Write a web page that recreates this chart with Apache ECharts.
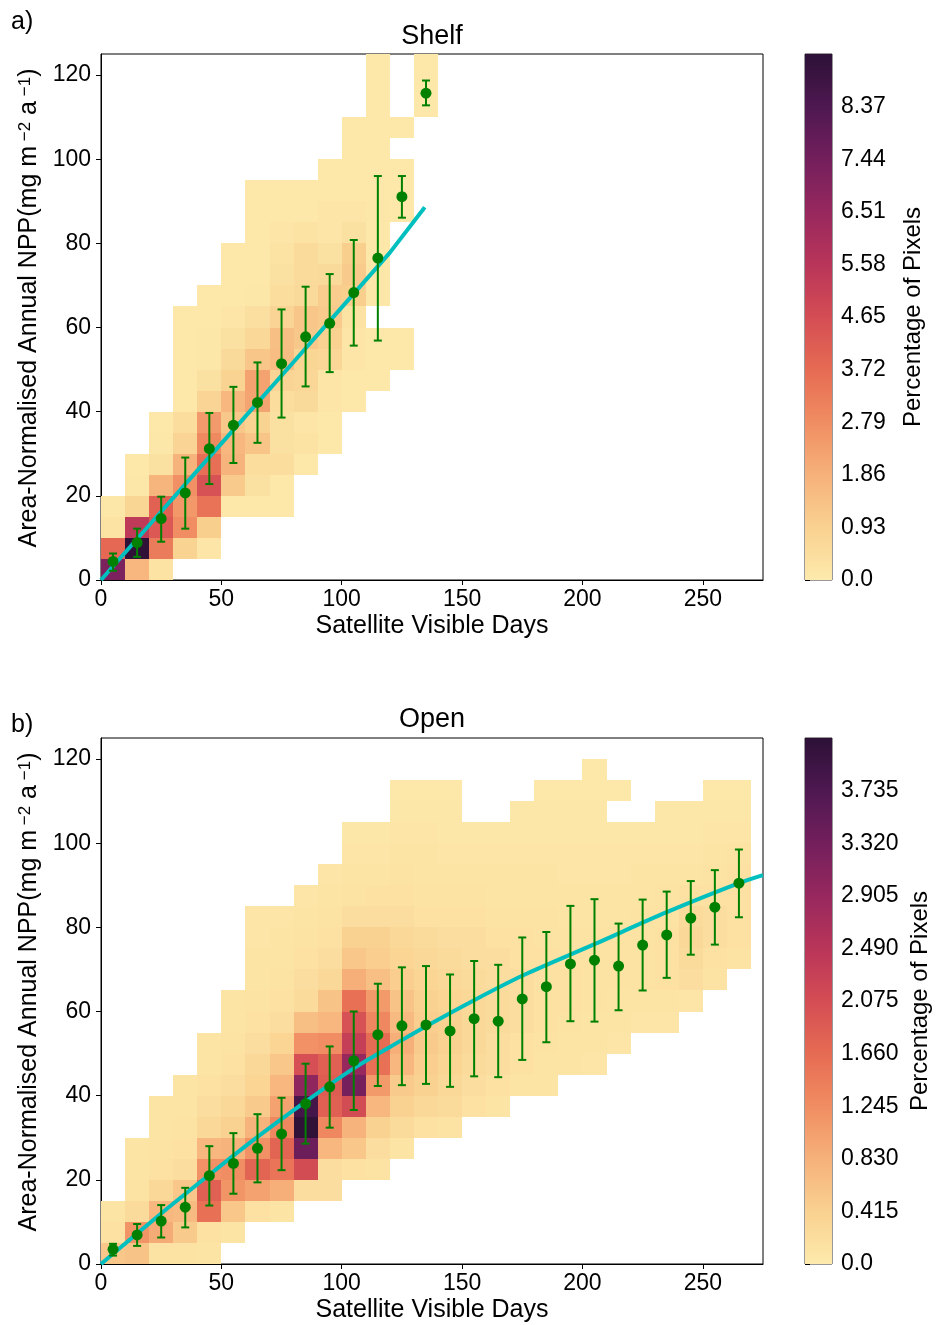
<!DOCTYPE html>
<html>
<head>
<meta charset="utf-8">
<script src="https://cdn.jsdelivr.net/npm/echarts@6/dist/echarts.min.js"></script>
<style>
html,body{margin:0;padding:0;background:#fff;}
#chart{width:938px;height:1325px;}
</style>
</head>
<body>
<div id="chart"></div>
<script>
// ---------------- DATA ----------------
const dayTicks = [0, 50, 100, 150, 200, 250];
const nppTicks = [0, 20, 40, 60, 80, 100, 120];
const dayBin = 10;   // histogram bin width (days)
const nppBin = 5;    // histogram bin height (NPP units)

const shelfCbarTicks = [0, 0.93, 1.86, 2.79, 3.72, 4.65, 5.58, 6.51, 7.44, 8.37];
const shelfCbarMax = 9.3;
const openCbarTicks = [0, 0.415, 0.83, 1.245, 1.66, 2.075, 2.49, 2.905, 3.32, 3.735];
const openCbarMax = 4.15;

// Percentage of pixels per (10-day x 5-NPP) bin, rows from NPP 0-5 upward, columns from day 0-10
const shelfHist = [
  [7.2, 1.7, 0.3, 0, 0, 0, 0, 0, 0, 0, 0, 0, 0, 0],
  [3.8, 9.2, 3.25, 0.85, 0.2, 0, 0, 0, 0, 0, 0, 0, 0, 0],
  [0.3, 5.4, 4.3, 2.8, 1.0, 0, 0, 0, 0, 0, 0, 0, 0, 0],
  [0.12, 0.75, 4.0, 2.5, 3.5, 0.08, 0.08, 0.08, 0, 0, 0, 0, 0, 0],
  [0, 0.12, 1.75, 2.7, 4.5, 1.1, 0.35, 0.08, 0, 0, 0, 0, 0, 0],
  [0, 0.08, 0.35, 1.8, 3.6, 1.8, 0.5, 0.45, 0.08, 0, 0, 0, 0, 0],
  [0, 0, 0.12, 0.8, 2.9, 1.7, 1.3, 0.35, 0.3, 0.08, 0, 0, 0, 0],
  [0, 0, 0.08, 0.45, 2.45, 1.2, 0.85, 0.35, 0.2, 0.08, 0, 0, 0, 0],
  [0, 0, 0, 0.08, 0.8, 1.7, 2.2, 0.5, 0.6, 0.2, 0.08, 0, 0, 0],
  [0, 0, 0, 0.08, 0.35, 0.85, 2.25, 0.8, 0.7, 0.2, 0.08, 0.06, 0, 0],
  [0, 0, 0, 0.08, 0.12, 0.6, 1.25, 1.5, 0.75, 0.7, 0.2, 0.08, 0.06, 0],
  [0, 0, 0, 0.08, 0.12, 0.35, 0.65, 1.45, 1.2, 0.9, 0.2, 0.08, 0.06, 0],
  [0, 0, 0, 0.06, 0.08, 0.2, 0.4, 0.8, 1.25, 1.1, 0.3, 0, 0, 0],
  [0, 0, 0, 0, 0.06, 0.08, 0.12, 0.5, 0.6, 1.05, 1.0, 0.12, 0, 0],
  [0, 0, 0, 0, 0, 0.06, 0.08, 0.35, 0.55, 0.6, 1.1, 0.12, 0, 0],
  [0, 0, 0, 0, 0, 0.06, 0.08, 0.3, 0.55, 0.35, 1.0, 0.08, 0, 0],
  [0, 0, 0, 0, 0, 0, 0.08, 0.2, 0.3, 0.2, 0.35, 0.08, 0, 0],
  [0, 0, 0, 0, 0, 0, 0.06, 0.08, 0.08, 0.2, 0.2, 0.12, 0.06, 0],
  [0, 0, 0, 0, 0, 0, 0.06, 0.06, 0.08, 0.08, 0.08, 0.08, 0.06, 0],
  [0, 0, 0, 0, 0, 0, 0, 0, 0, 0.06, 0.08, 0.08, 0.06, 0],
  [0, 0, 0, 0, 0, 0, 0, 0, 0, 0, 0.06, 0.08, 0, 0],
  [0, 0, 0, 0, 0, 0, 0, 0, 0, 0, 0.06, 0.06, 0.06, 0],
  [0, 0, 0, 0, 0, 0, 0, 0, 0, 0, 0, 0.06, 0, 0.06],
  [0, 0, 0, 0, 0, 0, 0, 0, 0, 0, 0, 0.06, 0, 0.06],
  [0, 0, 0, 0, 0, 0, 0, 0, 0, 0, 0, 0.06, 0, 0.06]
];

const openHist = [
  [0.55,0.6,0.12,0.12,0.1, 0,0,0,0,0, 0,0,0,0,0, 0,0,0,0,0, 0,0,0,0,0, 0,0],
  [0.15,1.15,0.9,0.5,0.15, 0.1,0,0,0,0, 0,0,0,0,0, 0,0,0,0,0, 0,0,0,0,0, 0,0],
  [0.1,0.25,0.75,0.7,1.6, 0.55,0.15,0.1,0,0, 0,0,0,0,0, 0,0,0,0,0, 0,0,0,0,0, 0,0],
  [0,0.12,0.3,0.55,1.8, 1.15,1.0,0.85,0.2,0.2, 0,0,0,0,0, 0,0,0,0,0, 0,0,0,0,0, 0,0],
  [0,0.1,0.15,0.2,1.2, 1.25,1.75,1.55,2.1,0.2, 0.15,0.12,0,0,0, 0,0,0,0,0, 0,0,0,0,0, 0,0],
  [0,0.1,0.12,0.15,0.75, 0.8,1.2,1.75,3.4,0.75, 0.55,0.2,0.1,0,0, 0,0,0,0,0, 0,0,0,0,0, 0,0],
  [0,0,0.1,0.12,0.3, 0.4,0.8,1.3,4.1,1.3, 0.8,0.4,0.25,0.15,0.12, 0,0,0,0,0, 0,0,0,0,0, 0,0],
  [0,0,0.1,0.1,0.2, 0.3,0.5,1.0,3.85,1.8, 2.1,0.75,0.4,0.3,0.25, 0.15,0.1,0,0,0, 0,0,0,0,0, 0,0],
  [0,0,0,0.1,0.15, 0.2,0.35,0.75,3.0,1.85, 3.3,1.1,0.5,0.4,0.3, 0.2,0.15,0.1,0.1,0, 0,0,0,0,0, 0,0],
  [0,0,0,0,0.1, 0.15,0.3,0.55,2.05,1.8, 2.9,1.6,0.75,0.45,0.35, 0.25,0.2,0.15,0.1,0.1, 0.08,0,0,0,0, 0,0],
  [0,0,0,0,0.1, 0.12,0.2,0.35,1.2,1.25, 2.3,1.65,0.85,0.5,0.4, 0.3,0.2,0.15,0.12,0.1, 0.1,0.08,0,0,0, 0,0],
  [0,0,0,0,0, 0.1,0.15,0.2,0.65,0.75, 2.0,1.3,0.7,0.45,0.4, 0.3,0.25,0.2,0.15,0.12, 0.1,0.1,0.08,0.08,0, 0,0],
  [0,0,0,0,0, 0.1,0.12,0.15,0.25,0.6, 1.6,1.1,0.6,0.4,0.35, 0.3,0.25,0.2,0.15,0.15, 0.12,0.1,0.1,0.1,0.08, 0,0],
  [0,0,0,0,0, 0,0.1,0.12,0.2,0.3, 0.85,0.65,0.45,0.35,0.3, 0.25,0.2,0.2,0.15,0.15, 0.12,0.12,0.12,0.15,0.2, 0.12,0],
  [0,0,0,0,0, 0,0.1,0.1,0.15,0.2, 0.55,0.45,0.35,0.3,0.25, 0.2,0.2,0.15,0.15,0.12, 0.12,0.12,0.12,0.15,0.25, 0.15,0.12],
  [0,0,0,0,0, 0,0.08,0.1,0.12,0.15, 0.4,0.4,0.3,0.25,0.2, 0.2,0.15,0.15,0.12,0.12, 0.12,0.12,0.12,0.15,0.3, 0.2,0.15],
  [0,0,0,0,0, 0,0.08,0.08,0.1,0.12, 0.2,0.2,0.2,0.15,0.15, 0.15,0.12,0.12,0.12,0.1, 0.1,0.1,0.12,0.12,0.25, 0.2,0.15],
  [0,0,0,0,0, 0,0,0,0.08,0.1, 0.12,0.15,0.15,0.12,0.12, 0.12,0.1,0.1,0.1,0.1, 0.1,0.1,0.1,0.12,0.15, 0.15,0.15],
  [0,0,0,0,0, 0,0,0,0,0.08, 0.1,0.1,0.12,0.1,0.1, 0.1,0.1,0.1,0.1,0.08, 0.08,0.08,0.1,0.1,0.1, 0.12,0.15],
  [0,0,0,0,0, 0,0,0,0,0, 0.08,0.08,0.1,0.1,0.08, 0.08,0.08,0.08,0.08,0.08, 0.08,0.08,0.08,0.08,0.08, 0.1,0.12],
  [0,0,0,0,0, 0,0,0,0,0, 0.06,0.06,0.08,0.08,0.06, 0.06,0.06,0.06,0.06,0.06, 0.06,0.06,0.06,0.06,0.06, 0.08,0.08],
  [0,0,0,0,0, 0,0,0,0,0, 0,0,0.06,0.06,0.06, 0,0,0.06,0.06,0.06, 0.06,0,0,0.06,0.06, 0.06,0.06],
  [0,0,0,0,0, 0,0,0,0,0, 0,0,0.05,0.05,0.05, 0,0,0,0.05,0.05, 0.05,0.05,0,0,0, 0.05,0.05],
  [0,0,0,0,0, 0,0,0,0,0, 0,0,0,0,0, 0,0,0,0,0, 0.05,0,0,0,0, 0,0]
];

// Binned means with error bars
const shelfDays = [5, 15, 25, 35, 45, 55, 65, 75, 85, 95, 105, 115, 125, 135];
const shelfMean = [4.4, 8.9, 14.6, 20.7, 31.2, 36.8, 42.2, 51.4, 57.8, 61.0, 68.3, 76.5, 91.1, 115.7];
const shelfLow  = [2.2, 5.5, 9.1, 12.2, 22.8, 27.8, 32.6, 38.6, 46.0, 49.4, 55.7, 56.9, 86.1, 112.8];
const shelfHigh = [6.3, 12.2, 19.8, 29.1, 39.7, 45.9, 51.7, 64.3, 69.7, 72.7, 80.8, 96.0, 96.0, 118.7];

const openDays = [5, 15, 25, 35, 45, 55, 65, 75, 85, 95, 105, 115, 125, 135, 145, 155, 165, 175, 185, 195, 205, 215, 225, 235, 245, 255, 265];
const openMean = [3.5, 6.9, 10.2, 13.5, 21.0, 23.9, 27.5, 30.9, 38.1, 42.1, 48.3, 54.5, 56.6, 56.8, 55.4, 58.3, 57.7, 63.0, 65.9, 71.3, 72.2, 70.8, 75.8, 78.2, 82.2, 84.8, 90.5];
const openLow  = [2.0, 4.3, 6.3, 8.7, 13.9, 16.7, 19.4, 22.3, 28.6, 32.4, 36.6, 42.3, 42.5, 42.8, 42.1, 44.6, 44.4, 48.5, 52.7, 57.7, 57.6, 60.3, 65.0, 68.0, 73.5, 75.9, 82.4];
const openHigh = [4.8, 9.5, 14.0, 18.1, 28.0, 31.1, 35.6, 39.5, 47.6, 51.7, 60.0, 66.6, 70.5, 70.8, 68.8, 72.0, 71.1, 77.6, 78.9, 85.1, 86.7, 80.9, 86.6, 88.5, 91.0, 93.6, 98.5];

// Fitted curves
const shelfFitDays = [0, 20, 40, 60, 80, 100, 120, 134.5];
const shelfFitNpp  = [0, 13.0, 26.0, 38.9, 51.8, 64.8, 77.8, 88.6];
const openFitDays = [0, 25, 45, 65, 85, 105, 125, 136, 155, 175, 205, 235, 265, 275];
const openFitNpp  = [0, 12.0, 21.2, 30.2, 38.6, 46.5, 53.2, 56.8, 62.7, 68.5, 76.0, 83.6, 90.5, 92.4];

const cmapColors = ['#fdeaac','#f9d190','#f6b17a','#f08d62','#e66b53','#d44d54','#b93559','#97285e','#731f5c','#4e1851','#2c1136'];

// ---------------- CHART ----------------
const FONT = '"Liberation Sans", Arial, Helvetica, sans-serif';
const GREEN = '#008000';
const CYAN = '#00bfbf';

function histCells(rows) {
  const out = [];
  rows.forEach((row, r) => row.forEach((v, c) => {
    if (v > 0) out.push([c * dayBin, (c + 1) * dayBin, r * nppBin, (r + 1) * nppBin, v]);
  }));
  return out;
}
function zip2(a, b) { return a.map((v, i) => [v, b[i]]); }
function errData(d, m, lo, hi) { return d.map((v, i) => [v, m[i], lo[i], hi[i]]); }

function renderCell(params, api) {
  const p0 = api.coord([api.value(0), api.value(3)]);
  const p1 = api.coord([api.value(1), api.value(2)]);
  const x0 = Math.round(p0[0]), y0 = Math.round(p0[1]);
  const x1 = Math.round(p1[0]), y1 = Math.round(p1[1]);
  return { type: 'rect', shape: { x: x0, y: y0, width: x1 - x0, height: y1 - y0 },
           style: { fill: api.visual('color') } };
}
function renderErr(params, api) {
  const lo = api.coord([api.value(0), api.value(2)]);
  const hi = api.coord([api.value(0), api.value(3)]);
  const w = 4;
  const st = { stroke: GREEN, lineWidth: 2 };
  return { type: 'group', children: [
    { type: 'line', shape: { x1: lo[0], y1: lo[1], x2: hi[0], y2: hi[1] }, style: st },
    { type: 'line', shape: { x1: lo[0] - w, y1: lo[1], x2: lo[0] + w, y2: lo[1] }, style: st },
    { type: 'line', shape: { x1: hi[0] - w, y1: hi[1], x2: hi[0] + w, y2: hi[1] }, style: st }
  ]};
}
function cbarRenderer() {
  return function (params, api) {
    const p0 = api.coord([0, api.value(1)]);
    const p1 = api.coord([1, api.value(0)]);
    const stops = cmapColors.map((c, i) => ({ offset: i / (cmapColors.length - 1), color: c }));
    return { type: 'rect', shape: { x: p0[0], y: p0[1], width: p1[0] - p0[0], height: p1[1] - p0[1] },
             style: { fill: new echarts.graphic.LinearGradient(0, 1, 0, 0, stops) } };
  };
}

const panels = [
  { top: 54, height: 526, title: 'Shelf', letter: 'a)', hist: shelfHist, max: shelfCbarMax, ticks: shelfCbarTicks, dec: 2, cbGap: 69,
    d: shelfDays, m: shelfMean, lo: shelfLow, hi: shelfHigh, fd: shelfFitDays, fn: shelfFitNpp, titleY: 37, letterY: 22 },
  { top: 738, height: 526, title: 'Open', letter: 'b)', hist: openHist, max: openCbarMax, ticks: openCbarTicks, dec: 3, cbGap: 76,
    d: openDays, m: openMean, lo: openLow, hi: openHigh, fd: openFitDays, fn: openFitNpp, titleY: 720, letterY: 725 }
];

const grid = [], xAxis = [], yAxis = [], series = [], visualMap = [], graphic = [];
const axisBase = {
  axisLine: { show: true, onZero: false, lineStyle: { color: '#000', width: 1 } },
  axisTick: { show: true, inside: false, length: 5, lineStyle: { color: '#000', width: 1 } },
  splitLine: { show: false }
};

panels.forEach((p, k) => {
  const gMain = k * 2, gBar = k * 2 + 1;
  grid.push({ left: 101, top: p.top, width: 662, height: p.height, show: true, borderColor: '#000', borderWidth: 1, backgroundColor: 'transparent' });
  grid.push({ left: 805, top: p.top, width: 27, height: p.height, show: true, borderColor: '#333', borderWidth: 1 });

  xAxis.push(Object.assign({}, axisBase, {
    gridIndex: gMain, type: 'value', min: 0, max: 275,
    axisTick: Object.assign({}, axisBase.axisTick, { customValues: dayTicks }),
    axisLabel: { customValues: dayTicks, color: '#000', fontSize: 23, fontFamily: FONT, margin: 8 },
    name: 'Satellite Visible Days', nameLocation: 'middle', nameGap: 34,
    nameTextStyle: { color: '#000', fontSize: 25, fontFamily: FONT }
  }));
  xAxis.push({ gridIndex: gBar, type: 'value', min: 0, max: 1, show: false });

  yAxis.push(Object.assign({}, axisBase, {
    gridIndex: gMain, type: 'value', min: 0, max: 125,
    axisTick: Object.assign({}, axisBase.axisTick, { customValues: nppTicks }),
    axisLabel: { customValues: nppTicks, color: '#000', fontSize: 23, fontFamily: FONT, margin: 10 },
    name: '{t|Area-Normalised Annual NPP(mg m}{s| \u22122}{t| a}{s| \u22121}{t|)}',
    nameLocation: 'middle', nameGap: 59, nameRotate: 90,
    nameTextStyle: { color: '#000', fontFamily: FONT, padding: [0, 0, 0, 18], rich: {
      t: { fontSize: 25, fontFamily: FONT, color: '#000' },
      s: { fontSize: 17, fontFamily: FONT, color: '#000', verticalAlign: 'top' }
    } }
  }));
  yAxis.push(Object.assign({}, axisBase, {
    gridIndex: gBar, type: 'value', min: 0, max: p.max, position: 'right',
    axisLine: { show: false },
    axisTick: Object.assign({}, axisBase.axisTick, { customValues: p.ticks }),
    axisLabel: { customValues: p.ticks, color: '#000', fontSize: 23, fontFamily: FONT, margin: 9,
      formatter: (v) => (v === 0 ? '0.0' : v.toFixed(p.dec)) },
    name: 'Percentage of Pixels', nameLocation: 'middle', nameGap: p.cbGap, nameRotate: 90,
    nameTextStyle: { color: '#000', fontSize: 24, fontFamily: FONT }
  }));

  const base = series.length;
  series.push({ type: 'custom', xAxisIndex: gMain, yAxisIndex: gMain, renderItem: renderCell, clip: true,
    encode: { x: [0, 1], y: [2, 3] }, data: histCells(p.hist), z: 1, silent: true });
  series.push({ type: 'line', xAxisIndex: gMain, yAxisIndex: gMain, data: zip2(p.fd, p.fn), showSymbol: false,
    smooth: k === 1 ? 0.3 : false, lineStyle: { color: CYAN, width: 4 }, z: 3, clip: true, silent: true });
  series.push({ type: 'custom', xAxisIndex: gMain, yAxisIndex: gMain, renderItem: renderErr, clip: true,
    encode: { x: 0, y: [1, 2, 3] }, data: errData(p.d, p.m, p.lo, p.hi), z: 4, silent: true });
  series.push({ type: 'scatter', xAxisIndex: gMain, yAxisIndex: gMain, data: zip2(p.d, p.m), symbolSize: 11,
    itemStyle: { color: GREEN, opacity: 1 }, z: 5, silent: true });
  series.push({ type: 'custom', xAxisIndex: gBar, yAxisIndex: gBar, renderItem: cbarRenderer(),
    encode: { x: [], y: [0, 1] }, data: [[0, p.max]], z: 1, silent: true });

  visualMap.push({ type: 'continuous', show: false, seriesIndex: base, dimension: 4, min: 0, max: p.max,
    inRange: { color: cmapColors } });

  graphic.push({ type: 'text', x: 432, y: p.titleY, style: { text: p.title, font: '27px ' + FONT, fill: '#000', textAlign: 'center', textVerticalAlign: 'middle' } });
  graphic.push({ type: 'text', x: 11, y: p.letterY, style: { text: p.letter, font: '25px ' + FONT, fill: '#000', textAlign: 'left', textVerticalAlign: 'middle' } });
});

const chart = echarts.init(document.getElementById('chart'), null, { renderer: 'canvas' });
chart.setOption({
  animation: false,
  backgroundColor: '#fff',
  grid, xAxis, yAxis, series, visualMap, graphic
});
</script>
</body>
</html>
